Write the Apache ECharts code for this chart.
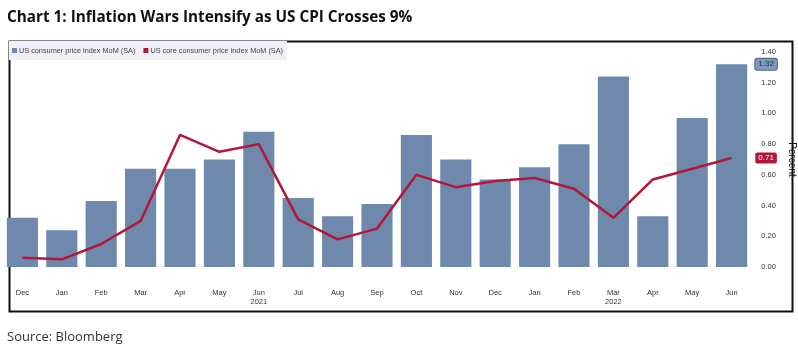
<!DOCTYPE html>
<html>
<head>
<meta charset="utf-8">
<script src="https://cdn.jsdelivr.net/npm/echarts@6/dist/echarts.min.js"></script>
<style>
html,body{margin:0;padding:0;background:#fff;}
#c{width:798px;height:349px;}
</style>
</head>
<body>
<div id="c"></div>
<script>
const categories = ['Dec','Jan','Feb','Mar','Apr','May','Jun','Jul','Aug','Sep','Oct','Nov','Dec','Jan','Feb','Mar','Apr','May','Jun'];
const yearLabels = ['','','','','','','2021','','','','','','','','','2022','','',''];
const cpiMoM = [0.32,0.24,0.43,0.64,0.64,0.70,0.88,0.45,0.33,0.41,0.86,0.70,0.57,0.65,0.80,1.24,0.33,0.97,1.32];
const coreCpiMoM = [0.06,0.05,0.15,0.30,0.86,0.75,0.80,0.31,0.18,0.25,0.60,0.52,0.56,0.58,0.51,0.32,0.57,0.64,0.71];
const seriesNames = ['US consumer price index MoM (SA)','US core consumer price index MoM (SA)'];
const yMin = 0, yMax = 1.4, yStep = 0.2;

const chart = echarts.init(document.getElementById('c'), null, {renderer:'canvas'});
const barColor = '#6f89ac';
const lineColor = '#b2173a';

chart.setOption({
  animation: false,
  backgroundColor: '#ffffff',
  title: {
    text: 'Chart 1: Inflation Wars Intensify as US CPI Crosses 9%',
    left: 2, top: 5,
    textStyle: {fontFamily: 'Open Sans', fontWeight: 'bold', fontSize: 15.3, color: '#111'}
  },
  graphic: [
    {type:'rect', left: 7, top: 39, shape:{width:783, height:270}, style:{fill:'none', stroke:'#111', lineWidth:2}, silent:true, z:-1},
    {type:'text', left: 7, top: 331, style:{text:'Source: Bloomberg', font:'13px "Open Sans"', fill:'#333'}}
  ],
  legend: {
    left: 9, top: 41,
    padding: [6, 4, 6, 3],
    backgroundColor: '#f2eff6',
    itemWidth: 5, itemHeight: 5, itemGap: 8,
    icon: 'rect',
    textStyle: {fontFamily: 'Liberation Sans', fontSize: 7.3, color: '#444', padding:[0,0,0,-3]},
    data: seriesNames
  },
  grid: {left: 2.7, right: 46.7, top: 52, bottom: 82, containLabel: false, outerBoundsMode: 'none'},
  xAxis: {
    type: 'category',
    data: categories,
    axisLine: {show:false},
    axisTick: {show:false},
    axisLabel: {
      interval: 0,
      margin: 21,
      fontFamily: 'Liberation Sans',
      fontSize: 7.5,
      color: '#333',
      lineHeight: 9,
      formatter: function (v, i) { return yearLabels[i] ? v + '\n{y|' + yearLabels[i] + '}' : v; },
      rich: {y: {fontFamily:'Liberation Sans', fontSize: 7.5, color:'#333', lineHeight: 9}}
    }
  },
  yAxis: {
    type: 'value',
    position: 'right',
    min: yMin, max: yMax, interval: yStep,
    splitLine: {show:false},
    axisLine: {show:false},
    axisTick: {show:false},
    axisLabel: {
      margin: 10,
      fontFamily: 'Liberation Sans', fontSize: 7.5, color: '#333',
      formatter: v => v.toFixed(2)
    },
    name: 'Percent',
    nameLocation: 'middle',
    nameRotate: -90,
    nameGap: 30,
    nameTextStyle: {fontFamily:'Liberation Sans', fontSize: 10, color:'#111'}
  },
  series: [
    {
      name: seriesNames[0],
      type: 'bar',
      data: cpiMoM,
      barCategoryGap: '21%',
      itemStyle: {color: barColor},
      markLine: {
        silent: true, symbol: 'none',
        lineStyle: {color: 'rgba(0,0,0,0)', width: 0},
        label: {
          show: true,
          position: 'end', distance: 4,
          formatter: p => Number(p.value).toFixed(2),
          backgroundColor: '#8099ba', borderColor: '#4d6788', borderWidth: 1,
          borderRadius: 2, padding: [2, 3, 1, 3],
          color: '#1c2b44', fontFamily: 'Liberation Sans', fontSize: 8
        },
        data: [{yAxis: cpiMoM[cpiMoM.length - 1]}]
      }
    },
    {
      name: seriesNames[1],
      type: 'line',
      data: coreCpiMoM,
      symbol: 'none',
      lineStyle: {color: lineColor, width: 2.5},
      itemStyle: {color: lineColor},
      markLine: {
        silent: true, symbol: 'none',
        lineStyle: {color: 'rgba(0,0,0,0)', width: 0},
        label: {
          show: true,
          position: 'end', distance: 4,
          formatter: p => Number(p.value).toFixed(2),
          backgroundColor: lineColor, borderRadius: 2, padding: [2, 3, 1, 3],
          color: '#fff', fontFamily: 'Liberation Sans', fontSize: 8
        },
        data: [{yAxis: coreCpiMoM[coreCpiMoM.length - 1]}]
      }
    }
  ]
});
</script>
</body>
</html>
